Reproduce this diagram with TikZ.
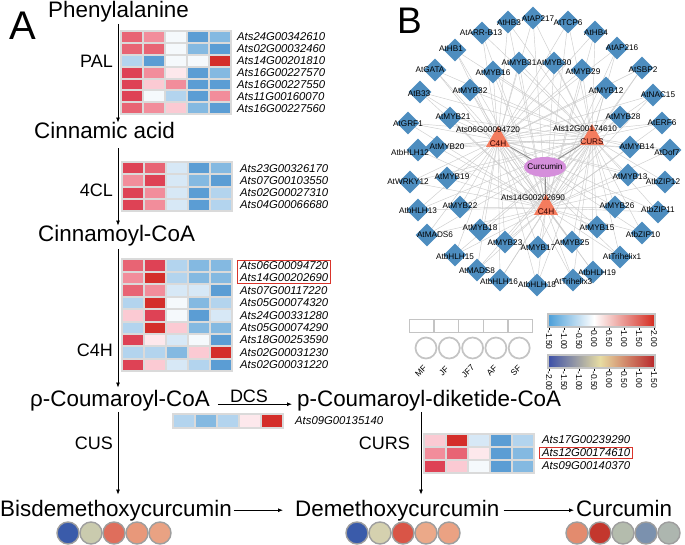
\documentclass[tikz,border=0pt]{standalone}
\usepackage{fontspec}
\setmainfont{Liberation Sans}
\usetikzlibrary{shapes.geometric,arrows.meta,fit,calc}
\pgfdeclarelayer{bg}
\pgfsetlayers{bg,main}
% heatmap colours
\definecolor{hr4}{HTML}{D42E2A}
\definecolor{hr3}{HTML}{DE4255}
\definecolor{hr2}{HTML}{E86474}
\definecolor{hr1}{HTML}{F28D9B}
\definecolor{hr0}{HTML}{FBCAD3}
\definecolor{hrw}{HTML}{FDE8EC}
\definecolor{hw}{HTML}{F5F9FC}
\definecolor{hb0}{HTML}{D7E8F6}
\definecolor{hb1}{HTML}{B3D4EE}
\definecolor{hb2}{HTML}{84B9E1}
\definecolor{hb3}{HTML}{5B9DD4}
\definecolor{hmgray}{HTML}{DADADA}
\definecolor{redbox}{HTML}{D9342B}
% network colours
\definecolor{tfblue}{HTML}{4D8DBF}
\definecolor{hubred}{HTML}{F47C5E}
\definecolor{curpink}{HTML}{D58FDB}
\definecolor{edgegray}{HTML}{CDCDCD}
\definecolor{legray}{HTML}{C4C4C4}
% colour bars
\definecolor{cbla}{HTML}{4A9ED8}
\definecolor{cbra}{HTML}{D42A1E}
\definecolor{cblb}{HTML}{3B4FA8}
\definecolor{cbmb}{HTML}{E7DCA2}
\definecolor{cbrb}{HTML}{B8262A}
% bottom circles
\definecolor{ca1}{HTML}{3A5BAA}
\definecolor{ca2}{HTML}{CACBAE}
\definecolor{ca3}{HTML}{DF6E5C}
\definecolor{ca4}{HTML}{E8987A}
\definecolor{ca5}{HTML}{E9A283}
\definecolor{cd1}{HTML}{3A5BAA}
\definecolor{cd2}{HTML}{D5D1AF}
\definecolor{cd3}{HTML}{D95547}
\definecolor{cd4}{HTML}{EBA989}
\definecolor{cd5}{HTML}{EBA283}
\definecolor{cc1}{HTML}{E38B6E}
\definecolor{cc2}{HTML}{C3372D}
\definecolor{cc3}{HTML}{B4BCAD}
\definecolor{cc4}{HTML}{7B91AE}
\definecolor{cc5}{HTML}{ADB6AF}
\definecolor{circline}{HTML}{9E9E9E}

\newcommand\hmap[5]{%
  \fill[hmgray] (#1,#2) rectangle ({#1+112},{#2+#3*#4+2});
  \foreach \hrow [count=\i from 0] in {#5} {
    \foreach \hc [count=\j from 0] in \hrow {
      \fill[\hc] ({#1+2+22*\j},{#2+2+#3*\i}) rectangle ++(20,{#3-2});
    }
  }
}

\begin{document}
\begin{tikzpicture}[x=1pt,y=-1pt,
  main/.style={font=\fontsize{22.4}{26}\selectfont, inner sep=0pt, anchor=base west},
  enz/.style={font=\fontsize{18}{22}\selectfont, inner sep=0pt},
  gene/.style={font=\fontsize{11.3}{13}\selectfont\itshape, inner sep=0pt, anchor=west},
  arr/.style={-{Latex[length=5pt,width=4pt]}, line width=0.8pt},
  hl/.style={draw=redbox, line width=0.9pt, inner xsep=2.5pt, inner ysep=1.5pt},
  tf/.style={diamond, aspect=1, fill=tfblue, inner sep=0pt, minimum width=23pt, minimum height=23pt},
  tfl/.style={font=\fontsize{8.2}{9.5}\selectfont, inner sep=0pt},
  hub/.style={regular polygon, regular polygon sides=3, fill=hubred, inner sep=0pt, minimum size=28pt},
  hubl/.style={font=\fontsize{8.2}{9.5}\selectfont, inner sep=0pt, text=black!80!red},
  edge/.style={draw=edgegray, line width=0.45pt},
  cedge/.style={draw=black!45, line width=0.9pt},
  small/.style={font=\fontsize{8.5}{10}\selectfont, inner sep=0pt},
  lcirc/.style={circle, draw=legray, line width=1.7pt, fill=white, minimum size=21pt, inner sep=0pt},
  lrect/.style={rectangle, draw=legray, line width=1.4pt, fill=white, minimum width=24.6pt, minimum height=13pt, inner sep=0pt},
  bcirc/.style={circle, draw=circline, line width=1.4pt, minimum size=22pt, inner sep=0pt}
]
\useasboundingbox (0,0) rectangle (685,545);
\begin{pgfonlayer}{bg}
\fill[white] (0,0) rectangle (685,545);
\end{pgfonlayer}

% ---------- Panel A ----------
\node[font=\fontsize{40}{44}\selectfont, inner sep=0pt, anchor=base west] (labA) at (9,40) {A};
\node[main] (phe) at (48,18) {Phenylalanine};
\node[main] (cin) at (34,139) {Cinnamic acid};
\node[main] (cinco) at (38,242) {Cinnamoyl-CoA};
\node[main] (pcou) at (30,406) {ρ-Coumaroyl-CoA};
\node[main] (pdik) at (297,406) {p-Coumaroyl-diketide-CoA};
\node[main] (bis) at (0,516) {Bisdemethoxycurcumin};
\node[main] (dem) at (295,516) {Demethoxycurcumin};
\node[main] (cur) at (576,516) {Curcumin};

\coordinate (ax) at (118,0);
\coordinate (cx) at (421,0);
\draw[arr] ([yshift=-1pt]phe.south -| ax) -- (cin.north -| ax);
\draw[arr] ([yshift=-9pt]cin.south -| ax) -- (cinco.north -| ax);
\draw[arr] ([yshift=-2pt]cinco.south -| ax) -- ([yshift=2pt]pcou.north -| ax);
\draw[arr, shorten >=5pt] ([yshift=-1pt]pcou.south -| ax) -- (bis.north -| ax);
\draw[arr, shorten >=5pt] ([yshift=-1pt]pdik.south -| cx) -- (dem.north -| cx);
\draw[arr, shorten <=8pt, shorten >=5pt] ([yshift=-4pt]pcou.east) -- ([yshift=-4pt]pcou.east -| pdik.west);
\draw[arr, shorten <=2pt, shorten >=12pt] (bis.east) -- (bis.east -| dem.west);
\draw[arr, shorten <=4pt, shorten >=2pt] (dem.east) -- (dem.east -| cur.west);

\node[enz, anchor=east] (pal) at (113,61) {PAL};
\node[enz, anchor=east] (fcl) at (113,190) {4CL};
\node[enz, anchor=east] (c4h) at (113,350) {C4H};
\node[enz, anchor=east] (cus) at (113,443) {CUS};
\node[enz, anchor=east] (curs) at (410,443) {CURS};
\node[enz, anchor=base] (dcs) at (249,402) {DCS};

% heatmaps
\hmap{120}{30}{11.9}{7}{{hr2,hr1,hw,hb3,hb2},{hr2,hr2,hw,hb2,hb3},{hb1,hb3,hw,hw,hr4},{hr3,hr1,hrw,hb3,hb2},{hr3,hr0,hr1,hb3,hb3},{hr3,hw,hb1,hb3,hr1},{hr2,hr1,hr0,hb2,hb3}}
\foreach \g [count=\k from 0] in {Ats24G00342610,Ats02G00032460,Ats14G00201810,Ats16G00227570,Ats16G00227550,Ats11G00160070,Ats16G00227560}
  \node[gene] (pa\k) at (237,{37+11.9*\k}) {\g};

\hmap{121}{161}{12.3}{4}{{hr3,hr2,hb0,hb3,hb2},{hr1,hr3,hb0,hb2,hb3},{hr3,hr1,hb0,hb3,hb1},{hr3,hr1,hb0,hb3,hb1}}
\foreach \g [count=\k from 0] in {Ats23G00326170,Ats07G00103550,Ats02G00027310,Ats04G00066680}
  \node[gene] (cl\k) at (240,{168.2+12.3*\k}) {\g};

\hmap{121}{258.5}{12.4}{9}{{hr2,hr3,hb1,hb2,hb2},{hr1,hr4,hb1,hb2,hb2},{hr2,hr1,hb0,hb0,hb3},{hb1,hr4,hw,hb2,hb1},{hr0,hr3,hw,hb3,hb0},{hb1,hr4,hr0,hb2,hb2},{hr3,hrw,hb0,hw,hb3},{hb1,hb1,hb2,hr0,hr4},{hr3,hr0,hb0,hb1,hb3}}
\foreach \g [count=\k from 0] in {Ats06G00094720,Ats14G00202690,Ats07G00117220,Ats05G00074320,Ats24G00331280,Ats05G00074290,Ats18G00253590,Ats02G00031230,Ats02G00031220}
  \node[gene] (ch\k) at (240,{265.7+12.4*\k}) {\g};
\node[hl, fit=(ch0)(ch1)] (box1) {};

\hmap{172}{413}{14}{1}{{hb1,hb2,hb1,hrw,hr4}}
\node[gene] (dcsg) at (295,421) {Ats09G00135140};

\hmap{423}{432.5}{13}{3}{{hr0,hr4,hb0,hb3,hb1},{hr1,hr2,hrw,hb3,hb2},{hr3,hr0,hw,hb3,hb2}}
\foreach \g [count=\k from 0] in {Ats17G00239290,Ats12G00174610,Ats09G00140370}
  \node[gene] (cu\k) at (542,{440+13*\k}) {\g};
\node[hl, fit=(cu1)] (box2) {};

% bottom circles
\foreach \c [count=\k from 0] in {ca1,ca2,ca3,ca4,ca5}
  \node[bcirc, fill=\c] (bc\k) at ({68+23*\k},533) {};
\foreach \c [count=\k from 0] in {cd1,cd2,cd3,cd4,cd5}
  \node[bcirc, fill=\c] (dc\k) at ({357+23*\k},533) {};
\foreach \c [count=\k from 0] in {cc1,cc2,cc3,cc4,cc5}
  \node[bcirc, fill=\c] (kc\k) at ({577+23*\k},533) {};

% ---------- Panel B ----------
\node[font=\fontsize{37}{40}\selectfont, inner sep=0pt, anchor=base west] (labB) at (397,34) {B};

\node[hub] (h1) at (498,140) {};
\node[hub] (h2) at (592,138) {};
\node[hub] (h3) at (546,208) {};
\node[ellipse, fill=curpink, minimum width=42pt, minimum height=20pt, inner sep=0pt] (cm) at (545,167) {};
\node[hubl] (h1t) at (498,144) {C4H};
\node[hubl] (h2t) at (592,142) {CURS};
\node[hubl] (h3t) at (546,212) {C4H};
\node[tfl] (cmt) at (545,167) {Curcumin};

\foreach \i/\nm/\dx/\dy/\lx/\ly in {
 1/AtHB3/508/22/509/23, 2/AtAP217/533/18/538/19, 3/AtTCP6/568/22/568/23,
 4/AtHB4/595/32/596/33, 5/AtARR-B13/482/33/481/33, 6/AtHB1/455/50/451/49,
 7/AtAP216/617/48/622/48, 8/AtGATA/435/70/430/70, 9/AtMYB31/519/63/519/63,
 10/AtMYB30/554/63/554/63, 11/AtMYB16/493/72/493/73, 12/AtMYB29/582/70/583/72,
 13/AtSBP2/642/68/643/70, 14/AtB33/420/92/419/94, 15/AtMYB32/470/90/470/91,
 16/AtMYB12/606/88/606/91, 17/AtNAC15/653/95/658/95, 18/AtGRF1/408/123/408/124,
 19/AtMYB21/450/118/453/117, 20/AtMYB28/620/117/623/117, 21/AtERF6/662/123/662/123,
 22/AtbHLH12/418/150/410/153, 23/AtMYB20/437/147/447/147, 24/AtMYB14/630/147/637/147,
 25/AtDof7/670/150/667/153, 26/AtWRKY12/410/182/408/182, 27/AtMYB19/447/178/452/177,
 28/AtMYB13/628/175/630/177, 29/AtbZIP12/665/182/663/182, 30/AtbHLH13/418/210/418/211,
 31/AtMYB22/460/207/460/206, 32/AtMYB26/615/207/617/206, 33/AtbZIP11/658/212/658/210,
 34/AtMADS6/427/235/435/235, 35/AtMYB18/480/230/480/228, 36/AtMYB15/597/227/597/228,
 37/AtbZIP10/642/233/643/235, 38/AtMYB23/505/242/505/243, 39/AtMYB17/538/247/538/248,
 40/AtMYB25/572/242/572/243, 41/AtbHLH15/455/255/455/257, 42/AtTrihelix1/620/257/622/257,
 43/AtMADS8/477/270/477/271, 44/AtbHLH19/593/272/597/273, 45/AtbHLH16/500/280/499/282,
 46/AtbHLH18/537/285/537/285, 47/AtTrihelix3/573/280/573/282}
{
  \node[tf] (tf\i) at (\dx,\dy) {};
  \node[tfl] (tl\i) at (\lx,\ly) {\nm};
}
\node[tfl] (h1l) at (488,130) {Ats06G00094720};
\node[tfl] (h2l) at (585,129) {Ats12G00174610};
\node[tfl] (h3l) at (533,198) {Ats14G00202690};

\begin{pgfonlayer}{bg}
\foreach \i in {1,...,47} {
  \draw[edge] (tf\i) -- (h1);
  \draw[edge] (tf\i) -- (h2);
  \draw[edge] (tf\i) -- (h3);
}
\draw[cedge] (cm) -- (h1);
\draw[cedge] (cm) -- (h2);
\draw[cedge] (cm) -- (h3);
\end{pgfonlayer}

% ---------- Legend ----------
\foreach \k in {0,...,4}
  \node[lrect] (lr\k) at ({421.7+24.6*\k},326) {};
\foreach \k in {0,...,4}
  \node[lcirc] (lc\k) at ({426+23.3*\k},348) {};
\foreach \t/\x [count=\k] in {MF/421,JF/444,JF7/468,AF/492,SF/516}
  \node[small, rotate=45] (sl\k) at (\x,371) {\t};

\shade[left color=cbla, right color=white] (548,314) rectangle (594,327);
\shade[left color=white, right color=cbra] (594,314) rectangle (655,327);
\draw[legray, line width=1.4pt] (548,314) rectangle (655,327);
\foreach \t [count=\k from 0] in {-1.50,-1.00,-0.50,0.00,0.50,1.00,1.50,2.00} {
  \draw[line width=0.6pt] ({549+15*\k},327.5) -- ++(0,2);
  \node[small, rotate=-90, anchor=west] (ta\k) at ({549+15*\k},330) {\t};
}
\shade[left color=cblb, right color=cbmb] (548,355) rectangle (600,368);
\shade[left color=cbmb, right color=cbrb] (600,355) rectangle (655,368);
\draw[legray, line width=1.4pt] (548,355) rectangle (655,368);
\foreach \t [count=\k from 0] in {-2.00,-1.50,-1.00,-0.50,0.00,0.50,1.00,1.50} {
  \draw[line width=0.6pt] ({549+15*\k},368.5) -- ++(0,2);
  \node[small, rotate=-90, anchor=west] (tb\k) at ({549+15*\k},371) {\t};
}
\end{tikzpicture}
\end{document}
